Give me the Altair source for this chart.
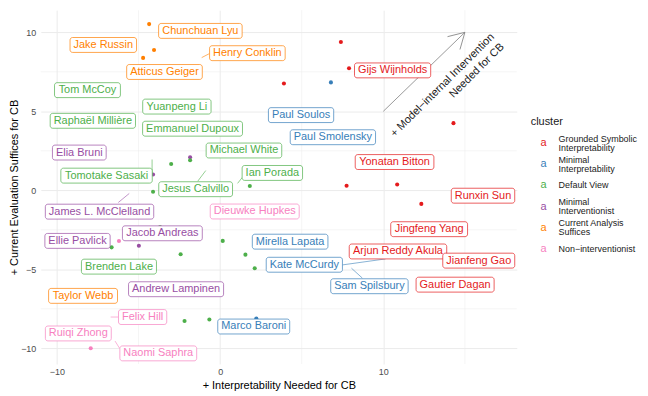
import altair as alt
import pandas as pd

FONT = "Liberation Sans"

# ---------------- data ----------------
cluster_codes = ["gsi", "mi", "dv", "miv", "cas", "ni"]
cluster_names = ["Grounded Symbolic\nInterpretability", "Minimal\nInterpretability", "Default View",
                 "Minimal\nInterventionist", "Current Analysis\nSuffices", "Non\u2212interventionist"]
cluster_colors = ["#E41A1C", "#377EB8", "#4DAF4A", "#984EA3", "#FF7F00", "#F781BF"]

label_names = ["Chunchuan Lyu", "Jake Russin", "Henry Conklin", "Atticus Geiger", "Taylor Webb",
               "Gijs Wijnholds", "Yonatan Bitton", "Runxin Sun", "Jingfeng Yang", "Arjun Reddy Akula",
               "Jianfeng Gao", "Gautier Dagan",
               "Paul Soulos", "Paul Smolensky", "Mirella Lapata", "Kate McCurdy", "Sam Spilsbury", "Marco Baroni",
               "Tom McCoy", "Yuanpeng Li", "Raphaël Millière", "Emmanuel Dupoux", "Michael White",
               "Tomotake Sasaki", "Jesus Calvillo", "Ian Porada", "Brenden Lake",
               "Elia Bruni", "James L. McClelland", "Jacob Andreas", "Ellie Pavlick", "Andrew Lampinen",
               "Dieuwke Hupkes", "Felix Hill", "Ruiqi Zhong", "Naomi Saphra"]
label_cluster = ["cas"] * 5 + ["gsi"] * 7 + ["mi"] * 6 + ["dv"] * 9 + ["miv"] * 5 + ["ni"] * 4
label_x = [-1.21, -7.16, 1.67, -3.41, -8.40,
           10.57, 10.69, 16.11, 12.81, 10.90, 15.85, 14.40,
           4.96, 6.91, 4.29, 5.16, 9.15, 2.06,
           -8.13, -2.65, -7.80, -1.69, 1.46, -6.96, -1.50, 3.20, -6.20,
           -8.63, -7.39, -3.54, -8.74, -2.70,
           2.12, -4.75, -8.69, -3.79]
label_y = [10.09, 9.20, 8.68, 7.49, -6.68,
           7.59, 1.79, -0.34, -2.46, -3.87, -4.45, -5.97,
           4.76, 3.36, -3.25, -4.71, -6.07, -8.62,
           6.34, 5.30, 4.40, 3.90, 2.52, 0.93, 0.07, 1.10, -4.83,
           2.39, -1.35, -2.72, -3.20, -6.26,
           -1.34, -8.02, -9.06, -10.32]

point_x = [-4.35, -4.05, -4.72,
           7.40, 7.90, 3.91, 14.30, 7.75, 10.85, 12.33,
           6.79, 2.22,
           -1.84,
           -3.00, -1.84, -4.11, 1.82, -6.65, -2.42, 0.16, 1.55, 2.12, -2.18, -0.66, -3.68,
           -4.11, -4.98,
           -6.20, -7.93]
point_y = [10.52, 8.88, 8.38,
           9.39, 7.73, 6.76, 4.25, 0.29, 0.37, -0.86,
           6.83, -8.12,
           2.09,
           1.67, 1.90, -0.09, 0.27, -3.61, -4.05, -3.20, -4.07, -4.93, -8.27, -8.18, -2.32,
           1.00, -3.51,
           -3.21, -10.00]
point_cluster = ["cas"] * 3 + ["gsi"] * 7 + ["mi"] * 2 + ["miv"] + ["dv"] * 12 + ["miv"] * 2 + ["ni"] * 2

seg_x = [-0.66, -4.17, -1.37, 1.07, -6.24, -6.24, -6.16, 7.50, 8.72]
seg_y = [8.65, 1.00, 0.58, 0.44, -0.77, -8.02, -10.00, -4.72, -5.56]
seg_x2 = [-1.13, -4.17, -0.88, 1.37, -5.57, -6.71, -6.44, 10.14, 8.05]
seg_y2 = [8.40, 1.95, 1.25, 0.83, -0.20, -8.02, -9.54, -4.34, -4.93]
seg_cluster = ["cas", "dv", "dv", "dv", "miv", "ni", "ni", "mi", "mi"]

arrow_x, arrow_y, arrow_x2, arrow_y2 = [10], [5], [15], [10]
note_x, note_y = [17.0], [9.5]
note_text = ["+ Model\u2212internal Intervention\nNeeded for CB"]

x_ticks = [-10, 0, 10]
y_ticks = [-10, -5, 0, 5, 10]
x_minor = [-5, 5, 15]
y_minor = [-7.5, -2.5, 2.5, 7.5]

X_DOM = [-10.99, 18.18]
Y_DOM = [-10.99, 11.40]
W, H = 479, 356

# ---------------- label box sizes (text metrics) ----------------
_w = {" ": 278, ".": 278, "ë": 556, "è": 556}
for c, v in zip("abcdefghijklmnopqrstuvwxyz",
                [556, 556, 500, 556, 556, 278, 556, 556, 222, 222, 500, 222, 833, 556, 556, 556, 556, 333, 500, 278,
                 556, 500, 722, 500, 500, 500]):
    _w[c] = v
for c, v in zip("ABCDEFGHIJKLMNOPQRSTUVWXYZ",
                [667, 667, 722, 722, 667, 611, 778, 722, 278, 500, 667, 556, 833, 722, 778, 667, 778, 722, 667, 611,
                 722, 667, 944, 667, 667, 611]):
    _w[c] = v


def text_w(s, size=11):
    return sum(_w.get(ch, 556) for ch in s) / 1000 * size


px_x = W / (X_DOM[1] - X_DOM[0])
px_y = H / (Y_DOM[1] - Y_DOM[0])
half_w = [(text_w(n) + 7) / 2 / px_x for n in label_names]
half_h = 7.5 / px_y

labels = pd.DataFrame({"name": label_names, "cluster": label_cluster, "x": label_x, "y": label_y})
labels["x1"] = labels["x"] - half_w
labels["x2"] = labels["x"] + half_w
labels["y1"] = labels["y"] - half_h
labels["y2"] = labels["y"] + half_h

points = pd.DataFrame({"x": point_x, "y": point_y, "cluster": point_cluster})
segs = pd.DataFrame({"x": seg_x, "y": seg_y, "x2": seg_x2, "y2": seg_y2, "cluster": seg_cluster})
arrow = pd.DataFrame({"x": arrow_x, "y": arrow_y, "x2": arrow_x2, "y2": arrow_y2})
note = pd.DataFrame({"x": note_x, "y": note_y, "t": note_text})
xm = pd.DataFrame({"x": x_minor})
ym = pd.DataFrame({"y": y_minor})

# ---------------- encodings ----------------
xscale = alt.Scale(domain=X_DOM, nice=False, zero=False)
yscale = alt.Scale(domain=Y_DOM, nice=False, zero=False)
xaxis = alt.Axis(values=x_ticks, grid=True, gridColor="#EBEBEB", gridWidth=1, domain=False, ticks=False,
                 labelFontSize=9, labelColor="#4D4D4D", labelPadding=4, labelFont=FONT,
                 titleFontSize=11, titleFontWeight="normal", titleColor="black", titleFont=FONT, titlePadding=3)
yaxis = alt.Axis(values=y_ticks, grid=True, gridColor="#EBEBEB", gridWidth=1, domain=False, ticks=False,
                 labelFontSize=9, labelColor="#4D4D4D", labelPadding=5, labelFont=FONT,
                 titleFontSize=11, titleFontWeight="normal", titleColor="black", titleFont=FONT, titlePadding=1)
XT = "+ Interpretability Needed for CB"
YT = "+ Current Evaluation Suffices for CB"


def X(f="x"):
    return alt.X(f"{f}:Q", scale=xscale, axis=xaxis, title=XT)


def Y(f="y"):
    return alt.Y(f"{f}:Q", scale=yscale, axis=yaxis, title=YT)


cscale = alt.Scale(domain=cluster_codes, range=cluster_colors)
col = alt.Color("cluster:N", scale=cscale, legend=None)

minor_x = alt.Chart(xm).mark_rule(color="#EBEBEB", strokeWidth=0.5).encode(x=X())
minor_y = alt.Chart(ym).mark_rule(color="#EBEBEB", strokeWidth=0.5).encode(y=Y())
shaft = alt.Chart(arrow).mark_rule(color="#7F7F7F", strokeWidth=0.8).encode(x=X(), y=Y(), x2="x2:Q", y2="y2:Q")
head = alt.Chart(arrow).mark_point(shape="M -1.732 -1 L 0 0 L -1.732 1", filled=False, size=324, angle=316,
                                   color="#7F7F7F", strokeWidth=0.8, opacity=1).encode(x=X("x2"), y=Y("y2"))
note_l = alt.Chart(note).mark_text(angle=315, align="right", baseline="middle", lineBreak="\n", lineHeight=14,
                                   dy=-7, fontSize=11, font=FONT, color="#1A1A1A").encode(x=X(), y=Y(), text="t:N")
pts = alt.Chart(points).mark_circle(size=17, opacity=1).encode(x=X(), y=Y(), color=col)
seg_l = alt.Chart(segs).mark_rule(strokeWidth=0.6).encode(x=X(), y=Y(), x2="x2:Q", y2="y2:Q", color=col)
boxes = alt.Chart(labels).mark_rect(fill="white", strokeWidth=0.7, cornerRadius=2.5).encode(
    x=X("x1"), x2="x2:Q", y=Y("y1"), y2="y2:Q",
    stroke=alt.Stroke("cluster:N", scale=cscale, legend=None))
texts = alt.Chart(labels).mark_text(fontSize=11, font=FONT, baseline="middle").encode(
    x=X(), y=Y(), text="name:N", color=col)

main = alt.layer(minor_x, minor_y, shaft, head, note_l, pts, seg_l, boxes, texts).properties(width=W, height=H)

# ---------------- legend panel ----------------
leg = pd.DataFrame({"cluster": cluster_codes, "label": cluster_names})
leg["lines"] = leg["label"].str.count("\n") + 1
ly = alt.Y("cluster:N", sort=cluster_codes, scale=alt.Scale(type="point", range=[134, 240], padding=0), axis=None)
leg_a = alt.Chart(leg).mark_text(text="a", fontSize=11, font=FONT, baseline="middle", align="center").encode(
    x=alt.value(13), y=ly, color=col)
leg_t1 = alt.Chart(leg).transform_filter("datum.lines == 1").mark_text(
    fontSize=9, font=FONT, baseline="middle", align="left", color="#1A1A1A").encode(
    x=alt.value(28), y=ly, text="label:N")
leg_t2 = alt.Chart(leg).transform_filter("datum.lines == 2").mark_text(
    fontSize=9, font=FONT, baseline="middle", align="left", lineBreak="\n", lineHeight=9.5, dy=-4.75,
    color="#1A1A1A").encode(x=alt.value(28), y=ly, text="label:N")
leg_title = alt.Chart(pd.DataFrame({"t": ["cluster"]})).mark_text(
    fontSize=11, font=FONT, baseline="middle", align="left", color="#1A1A1A").encode(
    x=alt.value(0), y=alt.value(113), text="t:N")
legend = alt.layer(leg_title, leg_a, leg_t1, leg_t2).properties(width=110, height=H)

chart = alt.hconcat(main, legend, spacing=13).properties(padding=0).configure_view(stroke=None)

chart.save("out.html", embed_options={"renderer": "svg", "actions": False})
